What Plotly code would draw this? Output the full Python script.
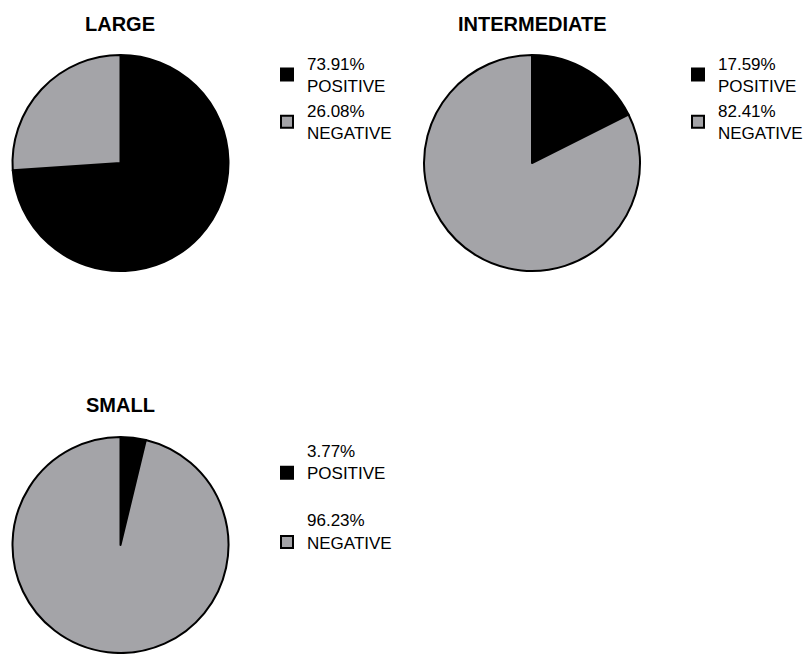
import plotly.graph_objects as go

groups = ["LARGE", "INTERMEDIATE", "SMALL"]
categories = ["POSITIVE", "NEGATIVE"]
large_values = [73.91, 26.08]
intermediate_values = [17.59, 82.41]
small_values = [3.77, 96.23]

colors = ["#000000", "#a4a4a8"]
W, H = 811, 654

def px_x(a, b):
    return [a / W, b / W]

def px_y(top, bottom):
    return [1 - bottom / H, 1 - top / H]

def labels_for(vals, extra=""):
    return [f"{v:.2f}%<br>{c}{extra}" for v, c in zip(vals, categories)]

fig = go.Figure()

specs = [
    (large_values, px_x(12, 229), px_y(55, 271), "legend", ""),
    (intermediate_values, px_x(424, 640), px_y(55, 271), "legend2", ""),
    (small_values, px_x(12, 229), px_y(437, 653), "legend3", "<br> "),
]

for vals, dx, dy, leg, extra in specs:
    fig.add_trace(go.Pie(
        labels=labels_for(vals, extra),
        values=vals,
        sort=False,
        direction="clockwise",
        rotation=0,
        textinfo="none",
        marker=dict(colors=colors, line=dict(color="#000000", width=2)),
        domain=dict(x=dx, y=dy),
        legend=leg,
        showlegend=True,
    ))

font_leg = dict(family="Arial, Liberation Sans, sans-serif", size=17, color="#000000")
title_font = dict(family="Arial, Liberation Sans, sans-serif", size=20, color="#000000")
fig.update_layout(
    width=W, height=H,
    margin=dict(l=0, r=0, t=0, b=0),
    paper_bgcolor="white",
    plot_bgcolor="white",
    font=dict(family="Arial, Liberation Sans, sans-serif", color="#000000"),
    legend=dict(x=267 / W, y=1 - 46 / H, xanchor="left", yanchor="top",
                font=font_leg, bgcolor="rgba(0,0,0,0)"),
    legend2=dict(x=678 / W, y=1 - 46 / H, xanchor="left", yanchor="top",
                 font=font_leg, bgcolor="rgba(0,0,0,0)"),
    legend3=dict(x=267 / W, y=1 - 433 / H, xanchor="left", yanchor="top",
                 font=font_leg, bgcolor="rgba(0,0,0,0)"),
    annotations=[
        dict(text=f"<b>{groups[0]}</b>", x=120 / W, y=1 - 24 / H, xref="paper", yref="paper",
             showarrow=False, font=title_font, xanchor="center", yanchor="middle"),
        dict(text=f"<b>{groups[1]}</b>", x=532 / W, y=1 - 24 / H, xref="paper", yref="paper",
             showarrow=False, font=title_font, xanchor="center", yanchor="middle"),
        dict(text=f"<b>{groups[2]}</b>", x=120 / W, y=1 - 405 / H, xref="paper", yref="paper",
             showarrow=False, font=title_font, xanchor="center", yanchor="middle"),
    ],
)

fig.write_html("out.html")
